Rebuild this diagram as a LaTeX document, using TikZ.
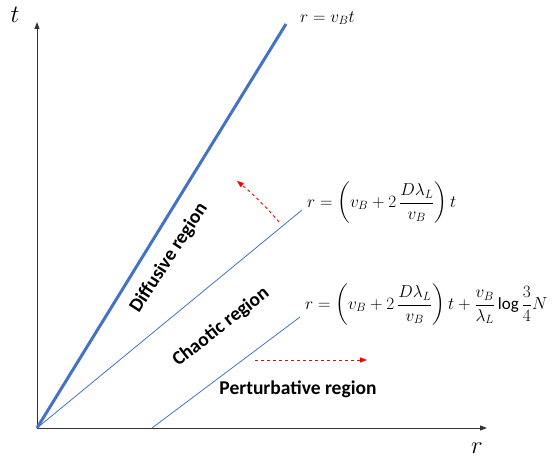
\documentclass[tikz,border=0pt]{standalone}
\usepackage{amsmath}
\usepackage{fontspec}
\setmainfont{Carlito}
\usepackage{tikz}
\usetikzlibrary{arrows.meta,positioning}
\definecolor{lineblue}{RGB}{68,114,196}

\begin{document}
\begin{tikzpicture}[
    x=1pt,y=1pt,
    axis/.style={-{Triangle[length=7pt,width=5pt]},line width=1pt,black!80},
    front/.style={line width=3pt,lineblue},
    bound/.style={line width=0.8pt,lineblue},
    drift/.style={-{Triangle[length=7pt,width=5pt]},dashed,line width=0.9pt,red},
    region/.style={font=\fontsize{19.5}{22}\bfseries\selectfont,inner sep=0pt},
    eqn/.style={font=\fontsize{17}{20}\selectfont,anchor=west,inner sep=0pt}
  ]
    \useasboundingbox (0,0) rectangle (553,459);

    % axes
    \coordinate (origin) at (37,31);
    \coordinate (ttop) at (37,437);
    \coordinate (rend) at (487,31);
    \draw[axis] (origin) -- (ttop);
    \draw[axis] (origin) -- (rend);
    \node[font=\fontsize{26}{30}\selectfont] (tlab) at (15,444) {$t$};
    \node[font=\fontsize{26}{30}\selectfont] (rlab) at (477,11) {$r$};

    % light-cone boundaries
    \coordinate (diffend) at (286,435);
    \coordinate (chaosend) at (302,249);
    \coordinate (pertstart) at (152,31);
    \coordinate (pertend) at (300,142);
    \draw[front] (origin) -- (diffend);
    \draw[bound] (origin) -- (chaosend);
    \draw[bound] (pertstart) -- (pertend);

    \node[eqn] (eqdiff) at (300,441) {$r=v_Bt$};
    \node[eqn] (eqchaos) at (307,256) {$r=\left(v_B+2\,\dfrac{D\lambda_L}{v_B}\right)t$};
    \node[eqn] (eqpert) at (305,154) {$r=\left(v_B+2\,\dfrac{D\lambda_L}{v_B}\right)t+\dfrac{v_B}{\lambda_L}\log\dfrac{3}{4}N$};

    % regions
    \node[region,rotate=57] (diffusive) at (169,201) {Diffusive region};
    \node[region,rotate=38] (chaotic) at (221,132) {Chaotic region};
    \node[region] (perturbative) at (298,70) {Perturbative region};

    % red arrows
    \coordinate (arcstart) at (279,237);
    \coordinate (hstart) at (255,99);
    \coordinate (hend) at (367,99);
    \draw[drift] (arcstart) arc[start angle=40.4,end angle=51,radius=319];
    \draw[drift] (hstart) -- (hend);
  \end{tikzpicture}
\end{document}
